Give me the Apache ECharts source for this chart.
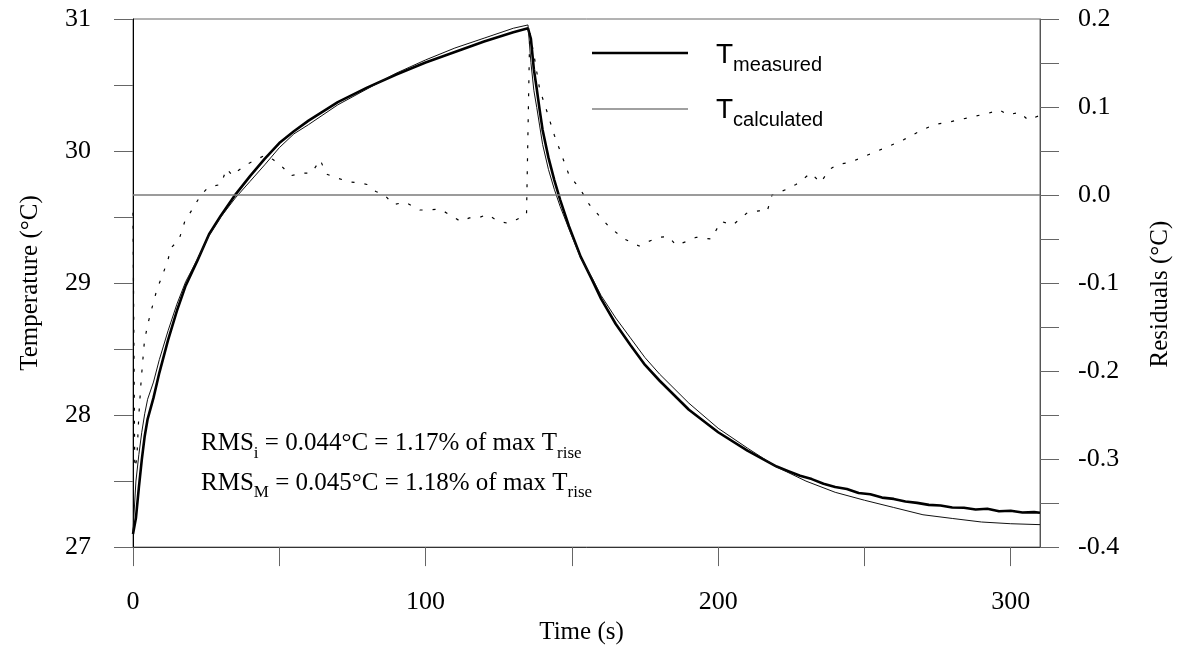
<!DOCTYPE html>
<html>
<head>
<meta charset="utf-8">
<title>Temperature and residuals</title>
<script src="https://cdn.jsdelivr.net/npm/echarts@6/dist/echarts.min.js"></script>
<style>
  html, body { margin: 0; padding: 0; background: #fff; }
  #chart { width: 1183px; height: 650px; }
</style>
</head>
<body>
<div id="chart"></div>
<script>
// Time (s) at which the calculated temperature is sampled
const timeCalc = [0, 1, 2, 3, 4, 5, 7, 9, 12, 15, 18, 22, 26, 30, 35, 40, 45, 50, 55, 60,
  70, 80, 90, 100, 110, 120, 130, 135, 136, 137, 138, 139, 140, 142, 144, 146, 149, 153,
  157, 160, 165, 170, 175, 180, 190, 200, 210, 220, 230, 240, 250, 260, 270, 280, 290, 300, 310];
// Calculated temperature (°C)
const tCalculated = [27.12, 27.50, 27.70, 27.87, 28.01, 28.12, 28.25, 28.42, 28.64, 28.84,
  29.01, 29.18, 29.36, 29.50, 29.645, 29.77, 29.895, 30.025, 30.13, 30.20,
  30.35, 30.47, 30.59, 30.69, 30.78, 30.855, 30.93, 30.955, 30.67, 30.46, 30.33, 30.19, 30.05,
  29.86, 29.71, 29.58, 29.41, 29.19, 29.035, 28.905, 28.735, 28.585, 28.435, 28.31, 28.09,
  27.90, 27.75, 27.607, 27.50, 27.415, 27.355, 27.30, 27.245, 27.217, 27.19, 27.177, 27.17];

// Time (s) at which the measured temperature is sampled
const timeMeas = [0, 1, 2, 3, 4, 5, 7, 9, 12, 15, 18, 22, 26, 30, 35, 40, 45, 50, 55, 60,
  70, 80, 90, 100, 110, 120, 130, 135, 136, 137, 138, 139, 140, 142, 144, 146, 149, 153,
  157, 160, 165, 170, 175, 180, 190, 200, 210, 220, 224, 228, 232, 236, 240, 244, 248, 252,
  256, 260, 264, 268, 272, 276, 280, 284, 288, 292, 296, 300, 304, 308, 310];
// Measured temperature (°C)
const tMeasured = [27.10, 27.22, 27.45, 27.66, 27.84, 27.97, 28.13, 28.32, 28.57, 28.79,
  28.98, 29.17, 29.37, 29.51, 29.67, 29.81, 29.94, 30.06, 30.15, 30.23,
  30.37, 30.48, 30.58, 30.67, 30.75, 30.83, 30.90, 30.93, 30.85, 30.62, 30.47, 30.31, 30.16,
  29.95, 29.78, 29.63, 29.43, 29.20, 29.02, 28.88, 28.69, 28.53, 28.38, 28.26, 28.04,
  27.87, 27.73, 27.61, 27.575, 27.54, 27.515, 27.48, 27.455, 27.44, 27.41, 27.40,
  27.375, 27.365, 27.345, 27.335, 27.32, 27.315, 27.30, 27.298, 27.285, 27.29, 27.272,
  27.275, 27.262, 27.265, 27.26];

// Time (s) of the residual samples
const timeRes = [0, 0.6, 1.3, 2.0, 2.8, 3.8, 4.8, 6.5, 8.2, 10.2, 12, 13, 15.7, 17.7, 20.5,
  23.2, 25.5, 27.3, 30, 32, 34, 36, 39, 42, 45, 48, 51, 54, 58, 61, 64, 66, 69, 74, 77, 80,
  83, 86, 89, 93, 98, 101, 105, 108, 112, 115, 118, 121, 125, 128, 131, 134.5, 135.6, 137,
  139, 141, 144, 146, 149, 153, 156, 160, 163, 168, 173, 176, 180, 183, 185.6, 189, 192.5,
  197.6, 201, 205, 210, 214, 216.7, 218.4, 223, 226.6, 231.7, 235, 238, 241, 245, 251.5,
  258, 263.5, 268.6, 273.7, 279, 285.7, 292.5, 296, 299, 303, 306, 309.6];
// Residuals, measured minus calculated (°C)
const residuals = [-0.02, -0.31, -0.30, -0.25, -0.21, -0.17, -0.15, -0.128, -0.107, -0.09,
  -0.073, -0.06, -0.051, -0.03, -0.015, 0.0, 0.008, 0.01, 0.012, 0.03, 0.022, 0.028, 0.035,
  0.04, 0.045, 0.04, 0.032, 0.022, 0.025, 0.025, 0.04, 0.024, 0.02, 0.015, 0.014, 0.012,
  0.004, 0.0, -0.011, -0.008, -0.017, -0.017, -0.016, -0.022, -0.03, -0.026, -0.026, -0.022,
  -0.03, -0.032, -0.028, -0.022, 0.185, 0.16, 0.12, 0.10, 0.068, 0.05, 0.023, 0.006, -0.011,
  -0.026, -0.037, -0.05, -0.058, -0.053, -0.048, -0.047, -0.057, -0.053, -0.048, -0.05,
  -0.03, -0.034, -0.02, -0.018, -0.019, 0.0, 0.006, 0.012, 0.025, 0.014, 0.029, 0.035,
  0.037, 0.046, 0.055, 0.063, 0.072, 0.08, 0.083, 0.088, 0.093, 0.097, 0.091, 0.094,
  0.085, 0.09];

// Axis ticks and labels
const timeTicks = [0, 50, 100, 150, 200, 250, 300];
const timeLabels = [0, 100, 200, 300];
const tempTicks = [27, 27.5, 28, 28.5, 29, 29.5, 30, 30.5, 31];
const tempLabels = [27, 28, 29, 30, 31];
const resTicks = [-0.4, -0.35, -0.3, -0.25, -0.2, -0.15, -0.1, -0.05, 0, 0.05, 0.1, 0.15, 0.2];
const resLabels = [-0.4, -0.3, -0.2, -0.1, 0, 0.1, 0.2];

const pairs = (xs, ys) => xs.map((x, i) => [x, ys[i]]);

const SERIF = 'Liberation Serif, Times New Roman, serif';
const SANS = 'Liberation Sans, Arial, sans-serif';
const labelFont = { fontFamily: SERIF, fontSize: 26, color: '#000' };
const nameFont = { fontFamily: SERIF, fontSize: 25, color: '#000' };
const tickStyle = { color: '#666', width: 1 };

const chart = echarts.init(document.getElementById('chart'), null, { renderer: 'canvas' });

const rmsRich = {
  n: { fontFamily: SERIF, fontSize: 25, lineHeight: 36, color: '#000' },
  s: { fontFamily: SERIF, fontSize: 17, lineHeight: 17.6, verticalAlign: 'bottom', color: '#000' }
};
const legendRich = {
  a: { fontFamily: SANS, fontSize: 28, lineHeight: 40, color: '#000' },
  b: { fontFamily: SANS, fontSize: 20, lineHeight: 21.4, verticalAlign: 'bottom', color: '#000' }
};

chart.setOption({
  animation: false,
  backgroundColor: '#fff',
  grid: {
    left: 133, right: 143, top: 19, bottom: 102,
    show: true, borderColor: '#666', borderWidth: 1, backgroundColor: 'transparent'
  },
  xAxis: {
    type: 'value', min: 0, max: 310, interval: 50,
    name: 'Time (s)', nameLocation: 'middle', nameGap: 64,
    nameTextStyle: Object.assign({ padding: [0, 10, 0, 0] }, nameFont),
    axisLine: { show: true, onZero: false, lineStyle: { color: '#333', width: 1 } },
    axisTick: { show: true, length: 19, inside: false, customValues: timeTicks, lineStyle: tickStyle },
    axisLabel: Object.assign({ margin: 42, customValues: timeLabels }, labelFont),
    splitLine: { show: false }
  },
  yAxis: [
    {
      type: 'value', min: 27, max: 31, interval: 0.5, position: 'left',
      name: 'Temperature (°C)', nameLocation: 'middle', nameGap: 90, nameRotate: 90,
      nameTextStyle: nameFont,
      axisLine: { show: true, onZero: false, lineStyle: { color: '#000', width: 1 } },
      axisTick: { show: true, length: 19, inside: false, customValues: tempTicks, lineStyle: tickStyle },
      axisLabel: Object.assign({ margin: 42, customValues: tempLabels }, labelFont),
      splitLine: { show: false }
    },
    {
      type: 'value', min: -0.4, max: 0.2, interval: 0.05, position: 'right',
      name: 'Residuals (°C)', nameLocation: 'middle', nameGap: 108, nameRotate: 90,
      nameTextStyle: Object.assign({ padding: [0, 22, 0, 0] }, nameFont),
      axisLine: { show: true, onZero: false, lineStyle: { color: '#555', width: 1 } },
      axisTick: { show: true, length: 19, inside: false, customValues: resTicks, lineStyle: tickStyle },
      axisLabel: Object.assign({
        margin: 38, customValues: resLabels,
        formatter: v => (Math.abs(v) < 1e-9 ? 0 : v).toFixed(1)
      }, labelFont),
      splitLine: { show: false }
    }
  ],
  series: [
    {
      name: 'Residuals', type: 'line', yAxisIndex: 1, showSymbol: false, symbol: 'none',
      data: pairs(timeRes, residuals),
      lineStyle: { color: '#000', width: 1.2, type: [3, 10] },
      markLine: {
        silent: true, symbol: ['none', 'none'], label: { show: false },
        lineStyle: { color: '#7a7a7a', width: 1.6, type: 'solid' },
        data: [{ yAxis: 0 }]
      },
      z: 2
    },
    {
      name: 'T measured', type: 'line', yAxisIndex: 0, showSymbol: false, symbol: 'none',
      data: pairs(timeMeas, tMeasured),
      lineStyle: { color: '#000', width: 2.6 },
      z: 3
    },
    {
      name: 'T calculated', type: 'line', yAxisIndex: 0, showSymbol: false, symbol: 'none',
      data: pairs(timeCalc, tCalculated),
      lineStyle: { color: '#111', width: 1 },
      z: 4
    }
  ],
  graphic: [
    { type: 'line', shape: { x1: 592, y1: 53, x2: 688, y2: 53 }, style: { stroke: '#000', lineWidth: 2.6 } },
    { type: 'line', shape: { x1: 592, y1: 109, x2: 688, y2: 109 }, style: { stroke: '#808080', lineWidth: 1.5 } },
    {
      type: 'text', x: 716, y: 55,
      style: { text: '{a|T}{b|measured}', rich: legendRich, align: 'left', verticalAlign: 'middle',
               textAlign: 'left', textVerticalAlign: 'middle' }
    },
    {
      type: 'text', x: 716, y: 110,
      style: { text: '{a|T}{b|calculated}', rich: legendRich, align: 'left', verticalAlign: 'middle',
               textAlign: 'left', textVerticalAlign: 'middle' }
    },
    {
      type: 'text', x: 201, y: 443.6,
      style: { text: '{n|RMS}{s|i}{n| = 0.044°C = 1.17% of max T}{s|rise}', rich: rmsRich,
               align: 'left', verticalAlign: 'middle', textAlign: 'left', textVerticalAlign: 'middle' }
    },
    {
      type: 'text', x: 201, y: 483,
      style: { text: '{n|RMS}{s|M}{n| = 0.045°C = 1.18% of max T}{s|rise}', rich: rmsRich,
               align: 'left', verticalAlign: 'middle', textAlign: 'left', textVerticalAlign: 'middle' }
    }
  ]
});
</script>
</body>
</html>
